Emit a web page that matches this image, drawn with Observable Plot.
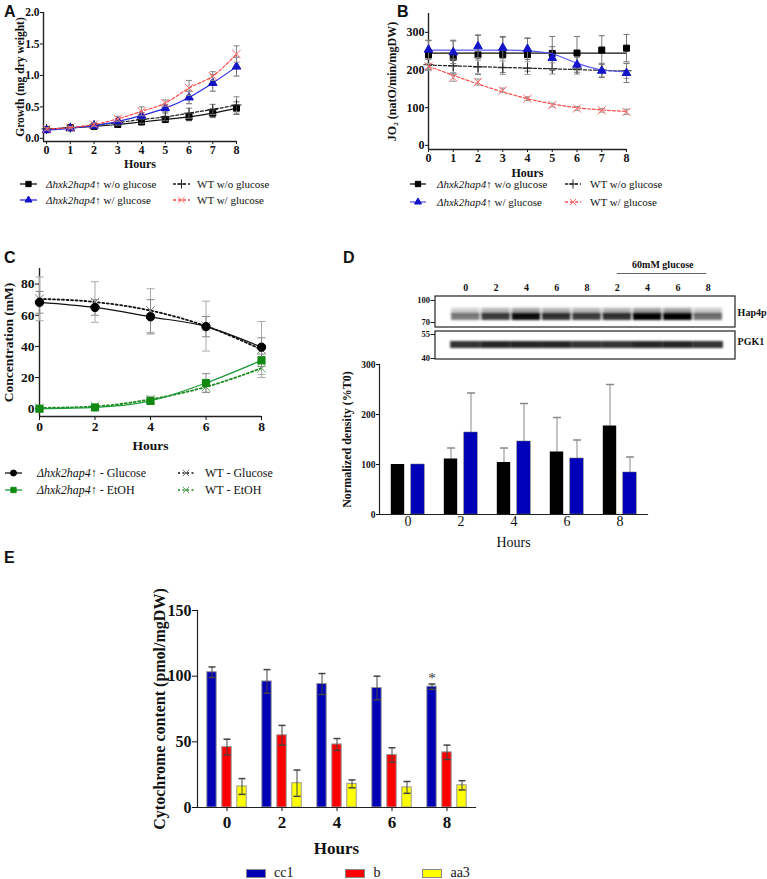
<!DOCTYPE html>
<html><head><meta charset="utf-8">
<script src="https://cdn.jsdelivr.net/npm/d3@7"></script>
<script src="https://cdn.jsdelivr.net/npm/@observablehq/plot@0.6"></script>
<style>
body{margin:0;background:#fff;}
#fig{position:relative;width:767px;height:879px;background:#fff;overflow:hidden;font-family:'Liberation Serif','Times New Roman',serif;color:#111;}
.letter{position:absolute;font-family:'Liberation Sans',Arial,sans-serif;font-weight:bold;font-size:16px;line-height:16px;}
.lg{position:absolute;display:flex;align-items:center;height:16px;white-space:nowrap;font-family:'Liberation Serif','Times New Roman',serif;}
.lg span{font-family:'Liberation Serif','Times New Roman',serif;}
</style></head>
<body><div id="fig"></div>
<script>
// ---------- DATA ----------
// Panel A: growth (mg dry weight)
const hoursA = [0,1,2,3,4,5,6,7,8];
const aKoNo     = [0.14,0.17,0.19,0.22,0.26,0.30,0.34,0.40,0.48];
const aKoNoErr  = [0.02,0.02,0.03,0.03,0.04,0.05,0.06,0.07,0.10];
const aKoGlc    = [0.13,0.16,0.20,0.27,0.36,0.48,0.65,0.88,1.14];
const aKoGlcErr = [0.02,0.02,0.03,0.04,0.05,0.06,0.10,0.13,0.15];
const aWtNo     = [0.15,0.17,0.21,0.25,0.30,0.34,0.40,0.46,0.53];
const aWtNoErr  = [0.02,0.02,0.03,0.04,0.06,0.06,0.08,0.08,0.13];
const aWtGlc    = [0.15,0.17,0.22,0.31,0.43,0.56,0.80,0.99,1.34];
const aWtGlcErr = [0.02,0.02,0.03,0.04,0.07,0.05,0.12,0.07,0.13];
const aTicksY = [0,0.5,1,1.5,2];

// Panel B: JO2 (natO/min/mgDW)
const hoursB = [0,1,2,3,4,5,6,7,8];
const bKoNo     = [240,234,240,241,241,244,245,253,258];
const bKoNoErr  = [38,45,52,48,44,45,44,38,36];
const bKoNoFit  = [245,245,245,245,245,245,245,245,245];
const bKoGlc    = [254,247,263,259,256,232,214,198,192];
const bKoGlcErr = [25,30,30,28,28,30,20,18,25];
const bKoGlcFit = [253,253,253,253,251,243,218,200,195];
const bWtNo     = [214,211,208,206,205,204,203,200,198];
const bWtNoErr  = [15,18,18,18,17,15,14,18,20];
const bWtNoFit  = [213,211,209,207,205,203,201,199,197];
const bWtGlc    = [210,180,168,146,124,107,98,93,89];
const bWtGlcErr = [8,10,8,6,5,5,5,5,7];
const bWtGlcFit = [210,186,163,142,124,110,100,94,90];
const bTicksY = [0,100,200,300];

// Panel C: concentration (mM)
const hoursC = [0,2,4,6,8];
const cKoGlc     = [68.3,65,59,52.7,39.5];
const cKoGlcErr  = [7,5,11,6.5,6];
const cWtGlc     = [70.5,68.5,63,53,38];
const cWtGlcErr  = [14,13,14,16,18];
const cKoEtoh    = [0,0.8,5,16.5,31];
const cKoEtohErr = [1,1,2,6,4];
const cWtEtoh    = [0.5,1.5,6,14,26];
const cWtEtohErr = [1,1,2,3.5,4];
const cTicksY = [0,20,40,60,80];

// Panel D: western blot + normalized density (%T0)
const blotLanes = ["0","2","4","6","8","2","4","6","8"];
const hapIntensity = [0.5,0.75,0.95,0.8,0.75,0.8,1,1,0.55];
const pgkIntensity = [0.8,0.85,0.85,0.85,0.8,0.8,0.85,0.85,0.8];
const mwLabels = ["100","70","55","40"];
const dHours = ["0","2","4","6","8"];
const dCtrl    = [100,111,104,125,177];
const dCtrlErr = [0,22,29,69,83];
const dGlc     = [100,164,146,112,84];
const dGlcErr  = [0,79,76,37,31];
const dTicksY = [0,100,200,300];

// Panel E: cytochrome content (pmol/mgDW)
const eHours = ["0","2","4","6","8"];
const eCc1    = [103,96,94,91,92];
const eCc1Err = [4,9,8,9,2];
const eB      = [46,55,48,40,42];
const eBErr   = [6,7.5,4.5,5.5,5.5];
const eAa3    = [16,18.5,18,15.3,16.9];
const eAa3Err = [6,10,3,4.5,3.5];
const eTicksY = [0,50,100,150];
const eStar = [{hour:"8", v:94, text:"*"}];

// ---------- HELPERS ----------
const serif = "'Liberation Serif','Times New Roman',serif";
const fig = document.getElementById("fig");
function put(node, left, top){ node.style.position="absolute"; node.style.left=left+"px"; node.style.top=top+"px"; fig.appendChild(node); }
const cap = {draw(ctx, size){ const w = Math.sqrt(size/Math.PI); ctx.moveTo(-w,0); ctx.lineTo(w,0);} };
const rowsOf = (xs, vs, es, fit) => xs.map((x,i)=>({x, v:vs[i], e:es[i], f: fit ? fit[i] : vs[i]}));

function seriesMarks(rows, s, ec, capR){
  return [
    Plot.line(rows, {x:"x", y:"f", stroke:s.color, strokeWidth:s.lw||1.2, strokeDasharray:s.dash, curve:"monotone-x"}),
    Plot.ruleX(rows, {x:"x", y1:d=>d.v-d.e, y2:d=>d.v+d.e, stroke:ec, strokeWidth:1}),
    Plot.dot(rows, {x:"x", y:d=>d.v+d.e, symbol:cap, r:capR, stroke:ec, fill:"none", strokeWidth:1}),
    Plot.dot(rows, {x:"x", y:d=>d.v-d.e, symbol:cap, r:capR, stroke:ec, fill:"none", strokeWidth:1}),
    Plot.dot(rows, {x:"x", y:"v", symbol:s.symbol, r:s.r, fill:s.fill, stroke:s.stroke, strokeWidth:s.sw||1})
  ];
}
const symMap = {square:d3.symbolSquare, triangle:d3.symbolTriangle, plus:d3.symbolPlus, times:d3.symbolTimes, circle:d3.symbolCircle};
function legend(s, x, y, w, textX, fontSize, html){
  const d = document.createElement("div");
  d.className = "lg";
  const r = s.lr || s.r;
  const path = d3.symbol(symMap[s.symbol], Math.PI*r*r)();
  d.innerHTML = `<svg width="${w}" height="16" style="overflow:visible"><line x1="0" x2="${w}" y1="8" y2="8" stroke="${s.color}" stroke-width="1.3" ${s.dash?`stroke-dasharray="${s.dash}"`:""}/><path d="${path}" transform="translate(${w/2},8)" fill="${s.fill}" stroke="${s.stroke}" stroke-width="1"/></svg><span style="margin-left:${textX-x-w}px;font-size:${fontSize}px">${html}</span>`;
  put(d, x, y-8);
}
function letter(t, x, y){ const d=document.createElement("div"); d.className="letter"; d.textContent=t; put(d,x,y); }
const KO = "<i>Δhxk2hap4</i>↑";

// ---------- PANEL A ----------
const sA = {
  koNo:  {color:"#111", symbol:"square", r:3.4, lr:3, fill:"#000", stroke:"#000"},
  koGlc: {color:"#2a2ae6", symbol:"triangle", r:3.2, lr:2.6, fill:"#1414c8", stroke:"#1414c8"},
  wtNo:  {color:"#222", dash:"3,2", symbol:"plus", r:3.4, lr:3, fill:"none", stroke:"#222"},
  wtGlc: {color:"#ff4a4a", dash:"3,2", symbol:"times", r:3.8, lr:3, fill:"none", stroke:"#ff6a6a"}
};
const plotA = Plot.plot({
  width:250, height:175, marginLeft:43, marginRight:14, marginTop:12, marginBottom:34,
  style:{fontFamily:serif, fontWeight:"bold", fontSize:"11px", background:"transparent", overflow:"visible", color:"#111"},
  x:{domain:[-0.13,8]}, y:{domain:[-0.05,2]},
  marks:[
    Plot.axisX({ticks:hoursA, tickSize:3, tickPadding:1, label:"Hours", labelAnchor:"center", labelOffset:26, labelArrow:"none", fontSize:12}),
    Plot.axisY({ticks:aTicksY, tickFormat:d3.format(".1f"), tickSize:3, tickPadding:1, label:"Growth (mg dry weight)", labelAnchor:"center", labelOffset:28, labelArrow:"none", fontSize:11.5}),
    Plot.ruleX([-0.13], {y1:-0.05, y2:2, stroke:"#222", strokeWidth:1.4}),
    Plot.ruleY([-0.05], {x1:-0.13, x2:8, stroke:"#222", strokeWidth:1.4}),
    ...seriesMarks(rowsOf(hoursA, aKoNo, aKoNoErr), sA.koNo, "#666", 3),
    ...seriesMarks(rowsOf(hoursA, aWtNo, aWtNoErr), sA.wtNo, "#888", 3),
    ...seriesMarks(rowsOf(hoursA, aKoGlc, aKoGlcErr), sA.koGlc, "#666", 3),
    ...seriesMarks(rowsOf(hoursA, aWtGlc, aWtGlcErr), sA.wtGlc, "#888", 3)
  ]
});
put(plotA, 0, 0);
letter("A", 4, 4);
legend(sA.koNo, 20, 184, 17, 46, 11, KO+" w/o glucose");
legend(sA.koGlc, 20, 200, 17, 46, 11, KO+" w/ glucose");
legend(sA.wtNo, 173, 184, 17, 197, 11, "WT w/o glucose");
legend(sA.wtGlc, 173, 200, 17, 197, 11, "WT w/ glucose");

// ---------- PANEL B ----------
const sB = {
  koNo:  {color:"#111", symbol:"square", r:3.4, lr:3, fill:"#000", stroke:"#000"},
  koGlc: {color:"#5a5af0", symbol:"triangle", r:3.2, lr:2.6, fill:"#1414c8", stroke:"#1414c8"},
  wtNo:  {color:"#222", dash:"3,2", symbol:"plus", r:3.4, lr:3, fill:"none", stroke:"#222"},
  wtGlc: {color:"#ff4a4a", dash:"3,2", symbol:"times", r:3.8, lr:3, fill:"none", stroke:"#ff6a6a"}
};
const plotB = Plot.plot({
  width:255, height:180, marginLeft:48, marginRight:9, marginTop:13, marginBottom:31,
  style:{fontFamily:serif, fontWeight:"bold", fontSize:"11.5px", background:"transparent", overflow:"visible", color:"#111"},
  x:{domain:[0,8]}, y:{domain:[-11,350]},
  marks:[
    Plot.axisX({ticks:hoursB, tickSize:3, tickPadding:1, label:"Hours", labelAnchor:"center", labelOffset:27, labelArrow:"none", fontSize:12}),
    Plot.axisY({ticks:bTicksY, tickSize:3, tickPadding:1, label:"JO₂ (natO/min/mgDW)", labelAnchor:"center", labelOffset:41, labelArrow:"none", fontSize:12}),
    Plot.ruleX([0], {y1:-11, y2:350, stroke:"#222", strokeWidth:1.4}),
    Plot.ruleY([-11], {x1:0, x2:8, stroke:"#222", strokeWidth:1.4}),
    ...seriesMarks(rowsOf(hoursB, bKoNo, bKoNoErr, bKoNoFit), sB.koNo, "#777", 3),
    ...seriesMarks(rowsOf(hoursB, bWtNo, bWtNoErr, bWtNoFit), sB.wtNo, "#999", 3),
    ...seriesMarks(rowsOf(hoursB, bKoGlc, bKoGlcErr, bKoGlcFit), sB.koGlc, "#777", 3),
    ...seriesMarks(rowsOf(hoursB, bWtGlc, bWtGlcErr, bWtGlcFit), sB.wtGlc, "#999", 3)
  ]
});
put(plotB, 380, 0);
letter("B", 397, 4);
legend(sB.koNo, 410, 184, 16, 437, 11, KO+" w/o glucose");
legend(sB.koGlc, 410, 202, 16, 437, 11, KO+" w/ glucose");
legend(sB.wtNo, 565, 184, 16, 590, 11, "WT w/o glucose");
legend(sB.wtGlc, 565, 202, 16, 590, 11, "WT w/ glucose");

// ---------- PANEL C ----------
const sC = {
  koGlc:  {color:"#111", symbol:"circle", r:4.2, lr:3, fill:"#000", stroke:"#000"},
  koEtoh: {color:"#1d9a3a", symbol:"square", r:4, lr:3, fill:"#128a12", stroke:"#128a12"},
  wtGlc:  {color:"#111", dash:"2,2.5", lw:1.8, symbol:"times", r:4, lr:3, fill:"none", stroke:"#777"},
  wtEtoh: {color:"#1a8a1a", dash:"2,2.5", lw:1.8, symbol:"times", r:4, lr:3, fill:"none", stroke:"#5aaa5a"}
};
const plotC = Plot.plot({
  width:270, height:200, marginLeft:39, marginRight:9, marginTop:18, marginBottom:34,
  style:{fontFamily:serif, fontWeight:"bold", fontSize:"13px", background:"transparent", overflow:"visible", color:"#111"},
  x:{domain:[0,8]}, y:{domain:[-5,90]},
  marks:[
    Plot.axisX({ticks:hoursC, tickSize:4, tickPadding:1, label:"Hours", labelAnchor:"center", labelOffset:33, labelArrow:"none", fontSize:13.5}),
    Plot.axisY({ticks:cTicksY, tickSize:4, tickPadding:1, label:"Concentration (mM)", labelAnchor:"center", labelOffset:36, labelArrow:"none", fontSize:13.5}),
    Plot.ruleX([0], {y1:-5, y2:90, stroke:"#222", strokeWidth:1.4}),
    Plot.ruleY([-5], {x1:0, x2:8, stroke:"#222", strokeWidth:1.4}),
    ...seriesMarks(rowsOf(hoursC, cWtGlc, cWtGlcErr), sC.wtGlc, "#aaa", 4),
    ...seriesMarks(rowsOf(hoursC, cKoGlc, cKoGlcErr), sC.koGlc, "#888", 4),
    ...seriesMarks(rowsOf(hoursC, cWtEtoh, cWtEtohErr), sC.wtEtoh, "#aaa", 4),
    ...seriesMarks(rowsOf(hoursC, cKoEtoh, cKoEtohErr), sC.koEtoh, "#888", 4)
  ]
});
put(plotC, 0, 250);
letter("C", 4, 250);
legend(sC.koGlc, 5, 473, 17, 37, 12, KO+" - Glucose");
legend(sC.koEtoh, 5, 490, 17, 37, 12, KO+" - EtOH");
legend(sC.wtGlc, 178, 473, 16, 205, 12, "WT - Glucose");
legend(sC.wtEtoh, 178, 490, 16, 205, 12, "WT - EtOH");

// ---------- PANEL D : blot ----------
const lanes = blotLanes.map((t,i)=>({lane:i, t, hap:hapIntensity[i], pgk:pgkIntensity[i]}));
const mw = mwLabels.map((t,i)=>({t, y:[45,67,79,103][i]}));
const plotBlot = Plot.plot({
  width:367, height:110, marginLeft:35, marginRight:32, marginTop:0, marginBottom:0,
  style:{fontFamily:serif, fontWeight:"bold", fontSize:"10px", background:"transparent", overflow:"visible", color:"#111"},
  x:{domain:[-1,8.9], axis:null}, y:{domain:[0,110], range:[0,110], axis:null},
  marks:[
    Plot.text(lanes, {x:"lane", y:32, text:"t", fontSize:10}),
    Plot.text(["60mM glucose"], {x:6.5, y:9, text:d=>d, fontSize:10}),
    Plot.ruleY([18], {x1:5, x2:7.95, stroke:"#666", strokeWidth:1}),
    Plot.rect(lanes, {x1:d=>d.lane-0.47, x2:d=>d.lane+0.47, y1:53, y2:60, fill:"#000", fillOpacity:d=>d.hap*0.4, imageFilter:"blur(1.5px)"}),
    Plot.rect(lanes, {x1:d=>d.lane-0.47, x2:d=>d.lane+0.47, y1:58, y2:65, fill:"#000", fillOpacity:d=>d.hap, imageFilter:"blur(1px)"}),
    Plot.rect(lanes, {x1:d=>d.lane-0.5, x2:d=>d.lane+0.5, y1:86, y2:93, fill:"#000", fillOpacity:d=>d.pgk, imageFilter:"blur(1.2px)"}),
    Plot.rect([{y1:41,y2:72},{y1:76,y2:104}], {x1:-1, x2:8.9, y1:"y1", y2:"y2", fill:"none", stroke:"#222", strokeWidth:1.2}),
    Plot.ruleY(mw, {y:"y", x1:-1.15, x2:-1, stroke:"#222"}),
    Plot.text(mw, {x:-1.18, y:"y", text:"t", textAnchor:"end", fontSize:8.5}),
    Plot.text([{t:"Hap4p", y:57},{t:"PGK1", y:86}], {x:8.97, y:"y", text:"t", textAnchor:"start", fontSize:10})
  ]
});
put(plotBlot, 400, 255);
letter("D", 343, 250);

// ---------- PANEL D : bars ----------
const dRows = dHours.map((h,i)=>({h, c:dCtrl[i], ce:dCtrlErr[i], g:dGlc[i], ge:dGlcErr[i]}));
const dBand = 268/5;
const plotD = Plot.plot({
  width:330, height:195, marginLeft:49, marginRight:13, marginTop:9, marginBottom:36,
  style:{fontFamily:serif, fontSize:"14px", background:"transparent", overflow:"visible", color:"#111"},
  x:{domain:dHours, padding:0}, y:{domain:[0,300]},
  marks:[
    Plot.axisX({tickSize:0, tickPadding:2, label:"Hours", labelAnchor:"center", labelOffset:32, labelArrow:"none", fontSize:14}),
    Plot.axisY({ticks:dTicksY, tickSize:3, tickPadding:1, fontWeight:"bold", fontSize:9.5, label:null}),
    Plot.axisY({ticks:[], tickSize:0, fontWeight:"bold", fontSize:12, label:"Normalized density (%T0)", labelAnchor:"center", labelOffset:37, labelArrow:"none"}),
    Plot.ruleX(dRows.filter(d=>d.ce>0), {x:"h", y1:"c", y2:d=>d.c+d.ce, dx:-10, stroke:"#888"}),
    Plot.dot(dRows.filter(d=>d.ce>0), {x:"h", y:d=>d.c+d.ce, dx:-10, symbol:cap, r:4, stroke:"#888", fill:"none"}),
    Plot.ruleX(dRows.filter(d=>d.ge>0), {x:"h", y1:"g", y2:d=>d.g+d.ge, dx:10, stroke:"#888"}),
    Plot.dot(dRows.filter(d=>d.ge>0), {x:"h", y:d=>d.g+d.ge, dx:10, symbol:cap, r:4, stroke:"#888", fill:"none"}),
    Plot.barY(dRows, {x:"h", y:"c", fill:"#000", insetLeft:dBand/2-17, insetRight:dBand/2+3}),
    Plot.barY(dRows, {x:"h", y:"g", fill:"#0000b8", stroke:"#666", strokeWidth:0.5, insetLeft:dBand/2+3, insetRight:dBand/2-17}),
    Plot.frame({anchor:"left", stroke:"#222", strokeWidth:1.2}),
    Plot.frame({anchor:"bottom", stroke:"#222", strokeWidth:1.2})
  ]
});
put(plotD, 330, 355);

// ---------- PANEL E ----------
const eBand = 278/5;
const eSeries = [
  {name:"cc1", v:eCc1, e:eCc1Err, fill:"#0000b4", off:-15},
  {name:"b",   v:eB,   e:eBErr,   fill:"#ff0000", off:0},
  {name:"aa3", v:eAa3, e:eAa3Err, fill:"#ffff00", off:15}
];
const eMarks = [];
for (const s of eSeries) {
  const rows = eHours.map((h,i)=>({h, v:s.v[i], e:s.e[i]}));
  eMarks.push(Plot.barY(rows, {x:"h", y:"v", fill:s.fill, stroke:"#999", strokeWidth:1, insetLeft:eBand/2+s.off-5, insetRight:eBand/2-s.off-5}));
  eMarks.push(Plot.ruleX(rows, {x:"h", y1:d=>d.v-d.e, y2:d=>d.v+d.e, dx:s.off, stroke:"#444"}));
  eMarks.push(Plot.dot(rows, {x:"h", y:d=>d.v+d.e, dx:s.off, symbol:cap, r:3.5, stroke:"#444", fill:"none"}));
  eMarks.push(Plot.dot(rows, {x:"h", y:d=>d.v-d.e, dx:s.off, symbol:cap, r:3.5, stroke:"#444", fill:"none"}));
}
const plotE = Plot.plot({
  width:380, height:305, marginLeft:87, marginRight:15, marginTop:50, marginBottom:58,
  style:{fontFamily:serif, fontWeight:"bold", fontSize:"16px", background:"transparent", overflow:"visible", color:"#111"},
  x:{domain:eHours, padding:0}, y:{domain:[0,150]},
  marks:[
    Plot.axisX({tickSize:4, tickPadding:4, fontSize:17, label:"Hours", labelAnchor:"center", labelOffset:46, labelArrow:"none"}),
    Plot.axisY({ticks:eTicksY, tickSize:5, tickPadding:1, fontSize:16, label:"Cytochrome content (pmol/mgDW)", labelAnchor:"center", labelOffset:44, labelArrow:"none"}),
    ...eMarks,
    Plot.text(eStar, {x:"hour", y:"v", text:"text", dx:-15, dy:-6, fontSize:15, fontWeight:"normal", fill:"#333"}),
    Plot.frame({anchor:"left", stroke:"#222", strokeWidth:1.2}),
    Plot.frame({anchor:"bottom", stroke:"#222", strokeWidth:1.2})
  ]
});
put(plotE, 110, 560);
letter("E", 4, 550);
// legend E
const eLeg = document.createElement("div");
eLeg.className = "lg";
eLeg.style.fontSize = "14px";
eLeg.innerHTML = eSeries.map((s,i)=>`<svg width="20" height="9" style="margin-left:${i?[0,52,42][i]:0}px"><rect x="0.5" y="0.5" width="19" height="8" fill="${s.fill}" stroke="#888"/></svg><span style="margin-left:8px">${s.name}</span>`).join("");
put(eLeg, 246, 865);
</script>
</body></html>
